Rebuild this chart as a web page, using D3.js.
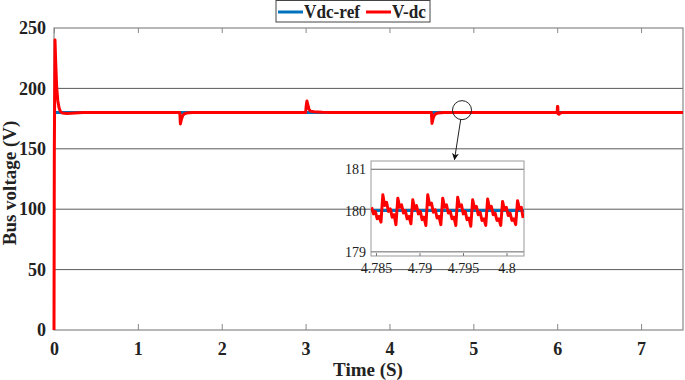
<!DOCTYPE html>
<html><head><meta charset="utf-8">
<script src="https://cdn.jsdelivr.net/npm/d3@7"></script>
<style>body{margin:0;background:#fff}svg{display:block}text{font-family:"Liberation Serif","Times New Roman",serif}</style>
</head><body><svg id="c" width="685" height="380"></svg>
<script>
// ---- data ----
const xTicks = [0,1,2,3,4,5,6,7];
const yTicks = [0,50,100,150,200,250];
const refTime = [0, 7.5];
const refVolt = [180, 180];
const dcTime = [0,0.004,0.012,0.02,0.032,0.045,0.06,0.075,0.1,0.15,0.25,0.35,
  1.5,1.507,1.52,1.535,1.555,1.58,1.65,
  3.0,3.008,3.016,3.025,3.04,3.055,3.1,3.2,3.3,
  4.5,4.507,4.52,4.535,4.555,4.58,4.65,
  6.0,6.003,6.007,6.01,6.02,6.035,6.06,7.5];
const dcVolt = [0,150,240,222,201,190,184,181,179.6,179.3,179.6,180,
  180,170.5,174.5,177.5,179,179.6,180,
  180,186,189.5,187,183,181.2,180.6,180.2,180,
  180,171,175,177.8,179.1,179.6,180,
  180,185,185,179,178.6,179.5,180,180];
const insetXTicks = [4.785,4.79,4.795,4.8];
const insetYTicks = [179,180,181];
const insetStart = 4.7845, insetStep = 0.000215;
const insetVolt = [180.08,179.92,179.98,179.8,179.86,179.72,
  180.38,180.12,180.2,179.98,180.04,179.84,179.9,179.66,
  180.3,180.08,180.14,179.94,180.0,179.8,179.86,179.68,
  180.26,180.04,180.12,179.92,179.98,179.78,179.84,179.64,
  180.38,180.14,180.18,179.96,180.02,179.82,179.86,179.66,
  180.3,180.08,180.14,179.94,179.98,179.8,179.84,179.64,
  180.32,180.1,180.14,179.92,179.98,179.78,179.82,179.62,
  180.26,180.06,180.1,179.9,179.96,179.76,179.8,179.64,
  180.28,180.06,180.1,179.9,179.94,179.76,179.8,179.64,
  180.22,180.02,180.08,179.88,179.94,179.76,179.8,179.66,
  180.24,180.04,180.08,179.82];
const legendLabels = ["Vdc-ref","V-dc"];
const colors = ["#0072BD","#FF0000"];

// ---- chart ----
const svg = d3.select("#c");
const L=54,R=683,T=28,B=330;
const x = d3.scaleLinear().domain([0,7.5]).range([L,R]);
const y = d3.scaleLinear().domain([0,250]).range([B,T]);

// grid
svg.append("g").selectAll("line").data(yTicks.filter(d=>d>0&&d<250)).join("line")
  .attr("x1",L).attr("x2",R).attr("y1",d=>y(d)).attr("y2",d=>y(d))
  .attr("stroke","#5a5a5a").attr("stroke-width",1);

// axes
const gx = svg.append("g").attr("transform",`translate(0,${B})`)
  .call(d3.axisBottom(x).tickValues(xTicks).tickSizeInner(-6).tickSizeOuter(0).tickPadding(12));
gx.select(".domain").remove();
gx.selectAll("line").attr("stroke","#888");
gx.selectAll("text").attr("font-size",18).attr("font-weight","bold").attr("fill","#222");
const gt = svg.append("g").attr("transform",`translate(0,${T})`)
  .call(d3.axisTop(x).tickValues(xTicks).tickSizeInner(-5).tickSizeOuter(0).tickFormat(""));
gt.select(".domain").remove();
gt.selectAll("line").attr("stroke","#888");
const gy = svg.append("g").attr("transform",`translate(${L},0)`)
  .call(d3.axisLeft(y).tickValues(yTicks).tickSize(0).tickPadding(8));
gy.select(".domain").remove();
gy.selectAll("text").attr("font-size",18).attr("font-weight","bold").attr("fill","#222");

// frame
svg.append("rect").attr("x",L).attr("y",T).attr("width",R-L).attr("height",B-T)
  .attr("fill","none").attr("stroke","#888").attr("stroke-width",1.2);

// lines
const line = d3.line().x(d=>x(d[0])).y(d=>y(d[1]));
svg.append("path").datum(refTime.map((t,i)=>[t,refVolt[i]])).attr("d",line)
  .attr("fill","none").attr("stroke",colors[0]).attr("stroke-width",3);
svg.append("path").datum(dcTime.map((t,i)=>[t,dcVolt[i]])).attr("d",line)
  .attr("fill","none").attr("stroke",colors[1]).attr("stroke-width",3).attr("stroke-linejoin","round");

// annotation circle + arrow
const defs = svg.append("defs");
defs.append("marker").attr("id","ah").attr("viewBox","0 0 10 10").attr("refX",9).attr("refY",5)
  .attr("markerWidth",7).attr("markerHeight",7).attr("orient","auto")
  .append("path").attr("d","M0,0 L10,5 L0,10 L3,5 Z").attr("fill","#111");
svg.append("circle").attr("cx",x(4.865)).attr("cy",y(182)).attr("r",9.5)
  .attr("fill","none").attr("stroke","#222").attr("stroke-width",1);
svg.append("line").attr("x1",460.7).attr("y1",119.5).attr("x2",454.5).attr("y2",159.5)
  .attr("stroke","#222").attr("stroke-width",1).attr("marker-end","url(#ah)");

// inset
const iL=371,iR=524,iT=161,iB=256;
const xi = d3.scaleLinear().domain([4.78443,4.80201]).range([iL,iR]);
const yi = d3.scaleLinear().domain([178.9,181.2]).range([iB,iT]);
defs.append("clipPath").attr("id","ic").append("rect").attr("x",iL).attr("y",iT).attr("width",iR-iL).attr("height",iB-iT);
svg.append("g").selectAll("line").data([179,181]).join("line")
  .attr("x1",iL).attr("x2",iR).attr("y1",d=>yi(d)).attr("y2",d=>yi(d))
  .attr("stroke","#666").attr("stroke-width",1);
svg.append("rect").attr("x",iL).attr("y",iT).attr("width",iR-iL).attr("height",iB-iT)
  .attr("fill","none").attr("stroke","#999").attr("stroke-width",1);
const gix = svg.append("g").attr("transform",`translate(0,${iB})`)
  .call(d3.axisBottom(xi).tickValues(insetXTicks).tickSizeInner(-3).tickSizeOuter(0).tickPadding(7).tickFormat(d=>String(d)));
gix.select(".domain").remove();
gix.selectAll("line").attr("stroke","#777");
gix.selectAll("text").attr("font-size",14).attr("fill","#222");
const giy = svg.append("g").attr("transform",`translate(${iL},0)`)
  .call(d3.axisLeft(yi).tickValues(insetYTicks).tickSize(0).tickPadding(5).tickFormat(d3.format("d")));
giy.select(".domain").remove();
giy.selectAll("text").attr("font-size",14).attr("fill","#222");
const ig = svg.append("g").attr("clip-path","url(#ic)");
const li = d3.line().x(d=>xi(d[0])).y(d=>yi(d[1]));
ig.append("path").datum([[4.78,180],[4.81,180]]).attr("d",li)
  .attr("fill","none").attr("stroke",colors[0]).attr("stroke-width",3);
ig.append("path").datum(insetVolt.map((v,i)=>[insetStart+i*insetStep,v])).attr("d",li)
  .attr("fill","none").attr("stroke",colors[1]).attr("stroke-width",3).attr("stroke-linejoin","round");

// axis titles
svg.append("text").attr("x",368).attr("y",376).attr("text-anchor","middle")
  .attr("font-size",19).attr("font-weight","bold").attr("fill","#222").text("Time (S)");
svg.append("text").attr("transform","translate(16,183) rotate(-90)").attr("text-anchor","middle")
  .attr("font-size",19).attr("font-weight","bold").attr("fill","#222").text("Bus voltage (V)");

// legend
const lg = svg.append("g");
lg.append("rect").attr("x",276).attr("y",0.5).attr("width",154).attr("height",21.5)
  .attr("fill","#fff").attr("stroke","#444").attr("stroke-width",1);
const lx=[278,366];
const lw=[56,34];
legendLabels.forEach((lab,i)=>{
  lg.append("line").attr("x1",lx[i]).attr("x2",lx[i]+25).attr("y1",12).attr("y2",12)
    .attr("stroke",colors[i]).attr("stroke-width",3);
  lg.append("text").attr("x",lx[i]+26).attr("y",17.5).attr("font-size",18).attr("font-weight","bold")
    .attr("textLength",lw[i]).attr("lengthAdjust","spacingAndGlyphs")
    .attr("fill","#222").text(lab);
});
</script></body></html>
